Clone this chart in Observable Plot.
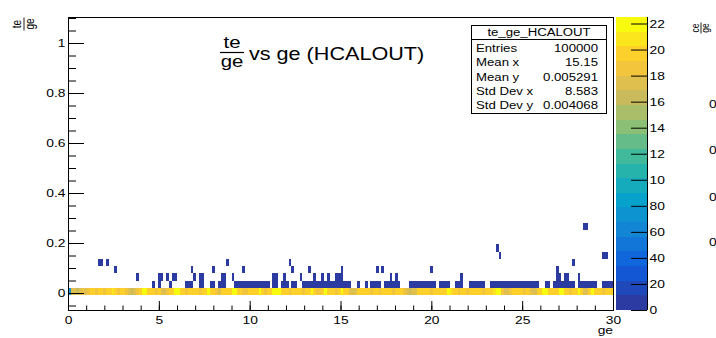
<!DOCTYPE html>
<html>
<head>
<meta charset="utf-8">
<script src="https://cdn.jsdelivr.net/npm/d3@7"></script>
<script src="https://cdn.jsdelivr.net/npm/@observablehq/plot@0.6"></script>
<style>
  body { margin: 0; background: #fff; }
  #chart { position: relative; width: 716px; height: 338px; overflow: hidden; }
  #chart svg { position: absolute; left: 0; top: 0; }
</style>
</head>
<body>
<div id="chart"></div>
<script>
// ---- histogram binning (te/ge vs ge) ----
const X_BINS = 200, X_MIN = 0, X_MAX = 30;
const Y_LOW = -0.008, Y_STEP = 0.029;

// counts of the lowest te/ge row, one per ge bin
const rowZero = [
   75,170,172,168,175,185,172,190,195,198,190,195,200,188,196,193,205,195,190,198,
  195,185,170,168,178,190,198,218,215,196,192,198,190,195,172,170,185,196,200,218,
  216,198,195,190,196,193,200,195,188,196,198,218,196,192,185,178,192,198,196,200,
  216,218,196,193,190,180,196,198,193,200,218,196,190,195,198,216,218,214,196,192,
  198,185,195,193,200,196,190,198,195,218,196,190,180,196,216,198,193,196,190,198,
  218,196,192,172,170,176,195,198,193,196,200,190,196,198,185,196,193,198,196,190,
  196,198,193,185,172,168,175,178,195,198,196,193,200,190,196,198,193,196,200,218,
  210,196,193,190,198,196,185,195,198,193,196,200,190,196,198,193,205,218,216,185,
  172,170,190,196,198,193,196,190,198,185,172,170,193,196,218,216,198,193,196,200,
  218,214,196,193,190,198,196,218,195,172,170,196,218,198,193,196,190,198,195,200
];

// sparse cells above the main band: [row, first ge bin, end ge bin (exclusive)]
const sparseRuns = [
  [1,31,32],[1,33,34],[1,37,38],[1,43,46],[1,48,50],[1,52,54],[1,55,58],[1,61,74],
  [1,75,77],[1,78,81],[1,82,84],[1,86,104],[1,106,107],[1,109,110],[1,111,115],
  [1,116,122],[1,125,135],[1,136,140],[1,142,145],[1,147,153],[1,155,173],
  [1,175,177],[1,178,186],[1,187,194],[1,196,200],
  [2,25,26],[2,33,35],[2,36,37],[2,38,40],[2,46,47],[2,48,50],[2,56,58],[2,60,61],
  [2,75,77],[2,79,80],[2,85,86],[2,90,91],[2,93,94],[2,95,96],[2,98,101],
  [2,118,119],[2,120,121],[2,144,145],[2,179,181],[2,182,184],[2,187,188],
  [3,17,18],[3,45,46],[3,53,54],[3,64,65],[3,82,83],[3,88,89],[3,100,101],
  [3,113,114],[3,115,116],[3,133,134],[3,179,180],
  [4,11,13],[4,14,15],[4,58,59],[4,81,82],[4,185,186],
  [5,158,159],[5,196,198],
  [6,157,158],
  [9,189,191]
];
const sparseCount = 3;

// axes
const xTicks = [0, 5, 10, 15, 20, 25, 30];
const yTicks = [0, 0.2, 0.4, 0.6, 0.8, 1];
const zTicks = [0, 20, 40, 60, 80, 100, 120, 140, 160, 180, 200, 220];
const zTickLabels = ["0", "20", "40", "60", "80", "10", "12", "14", "16", "18", "20", "22"];
const zMax = 225, nContours = 20;

// statistics box
const statsName = "te_ge_HCALOUT";
const statsLabels = ["Entries", "Mean x", "Mean y", "Std Dev x", "Std Dev y"];
const statsValues = ["100000", "15.15", "0.005291", "8.583", "0.004068"];

// ---- build cells ----
const binW = (X_MAX - X_MIN) / X_BINS;
const cells = [];
rowZero.forEach((c, i) => cells.push({
  x1: X_MIN + i * binW, x2: X_MIN + (i + 1) * binW,
  y1: Y_LOW, y2: Y_LOW + Y_STEP, count: c
}));
for (const [row, a, b] of sparseRuns) {
  for (let i = a; i < b; i++) cells.push({
    x1: X_MIN + i * binW, x2: X_MIN + (i + 1) * binW,
    y1: Y_LOW + row * Y_STEP, y2: Y_LOW + (row + 1) * Y_STEP, count: sparseCount
  });
}

// "bird"-style palette, sampled once per contour level
const birdStops = [0, .125, .25, .375, .5, .625, .75, .875, 1];
const birdRGB = [[0.17,0.23,0.63],[0.0592,0.3599,0.8684],[0.0780,0.5041,0.8385],
  [0.0232,0.6419,0.7914],[0.1802,0.7178,0.6425],[0.5301,0.7492,0.4662],
  [0.8186,0.7328,0.3499],[0.9956,0.7862,0.1968],[0.9764,0.9832,0.0539]];
const bird = d3.scaleLinear().domain(birdStops)
  .range(birdRGB.map(([r, g, b]) => d3.rgb(r * 255, g * 255, b * 255).toString()));
const levelColors = d3.range(nContours).map(i => bird(i / (nContours - 1)));
const levelEdges = d3.range(1, nContours).map(i => i * zMax / nContours);
const colorScale = {type: "threshold", domain: levelEdges, range: levelColors};

const FONT = "Liberation Sans, Arial, Helvetica, sans-serif";
const SX = 1.2; // horizontal glyph stretch of the canvas text

const W = 716, H = 338;
const frame = {left: 68, right: 103, top: 17, bottom: 28};
const fw = W - frame.left - frame.right, fh = H - frame.top - frame.bottom;

const main = Plot.plot({
  width: W, height: H,
  marginLeft: frame.left, marginRight: frame.right,
  marginTop: frame.top, marginBottom: frame.bottom,
  x: {domain: [X_MIN, X_MAX]},
  y: {domain: [-0.068, 1.104]},
  color: colorScale,
  style: {fontFamily: FONT, fontSize: "11.5px", color: "#000", background: "transparent"},
  marks: [
    Plot.rect(cells, {x1: "x1", x2: "x2", y1: "y1", y2: "y2", fill: "count", shapeRendering: "crispEdges"}),
    Plot.frame({stroke: "#000"}),
    Plot.tickX(d3.range(0, 31), {x: d => d, insetTop: fh - 4.5, stroke: "#000"}),
    Plot.tickX(xTicks, {x: d => d, insetTop: fh - 9, stroke: "#000"}),
    Plot.tickY(d3.range(-1, 23).map(k => k * 0.05), {y: d => d, insetRight: fw - 8, stroke: "#000"}),
    Plot.tickY(yTicks, {y: d => d, insetRight: fw - 16, stroke: "#000"}),
    Plot.axisX({ticks: xTicks, tickFormat: d => `${d}`, tickSize: 0, tickPadding: 5, label: null, fontSize: 11.5}),
    Plot.axisY({ticks: yTicks, tickFormat: d => `${d}`, tickSize: 0, tickPadding: 3, label: null, fontSize: 11.5})
  ]
});

const bar = Plot.plot({
  width: W, height: H,
  marginLeft: 616, marginRight: W - 647,
  marginTop: frame.top, marginBottom: frame.bottom,
  x: {domain: [0, 1], axis: null},
  y: {domain: [0, zMax], axis: null},
  color: colorScale,
  style: {fontFamily: FONT, fontSize: "11.5px", color: "#000", background: "transparent"},
  marks: [
    Plot.rect(d3.range(nContours), {
      x1: 0, x2: 1,
      y1: i => i * zMax / nContours, y2: i => (i + 1) * zMax / nContours,
      fill: i => (i + 0.5) * zMax / nContours, shapeRendering: "crispEdges"
    }),
    Plot.ruleX([1], {stroke: "#000"}),
    Plot.tickY(zTicks, {y: d => d, insetLeft: 15, stroke: "#000"}),
    Plot.axisY({anchor: "right", ticks: zTicks, tickFormat: d => zTickLabels[zTicks.indexOf(d)],
      tickSize: 0, tickPadding: 2, label: null, fontSize: 11.5})
  ]
});

function stretchText(node, sx) {
  node.querySelectorAll("text").forEach(t => {
    if (t.closest(".fraction")) return;
    let tr = t.getAttribute("transform") || "";
    if (!/translate/.test(tr)) {
      const x = +(t.getAttribute("x") || 0), y = +(t.getAttribute("y") || 0);
      t.removeAttribute("x"); t.removeAttribute("y");
      tr = `translate(${x},${y}) ` + tr;
    }
    t.setAttribute("transform", tr + ` scale(${sx},1)`);
  });
}

// rotated axis title drawn as a small fraction
function rotatedFraction(svg, cx, cy, num, den, fs, half, numY, denY) {
  const g = svg.append("g").attr("class", "fraction")
    .attr("transform", `translate(${cx},${cy}) scale(${SX},1) rotate(-90)`)
    .attr("font-family", FONT).attr("font-size", fs).attr("fill", "#000")
    .attr("text-anchor", "middle");
  g.append("text").attr("x", 0).attr("y", numY).text(num);
  g.append("line").attr("x1", -half).attr("x2", half).attr("y1", 0).attr("y2", 0)
    .attr("stroke", "#000").attr("stroke-width", 0.8);
  g.append("text").attr("x", 0).attr("y", denY).text(den);
}

function addText(sel, x, y, str, anchor, fs) {
  return sel.append("text").attr("x", x).attr("y", y)
    .attr("text-anchor", anchor).style("text-anchor", anchor)
    .attr("font-family", FONT).attr("font-size", fs).attr("fill", "#000").text(str);
}

const s = d3.select(main);

// title: te/ge as a stacked fraction followed by the rest of the title
const tg = s.append("g");
addText(tg, 232, 48, "te", "middle", 17);
tg.append("line").attr("x1", 220).attr("x2", 244).attr("y1", 52.5).attr("y2", 52.5)
  .attr("stroke", "#000").attr("stroke-width", 1.2);
addText(tg, 232, 67, "ge", "middle", 17);
addText(tg, 249, 60, "vs ge (HCALOUT)", "start", 18);

// statistics box
const sb = s.append("g");
sb.append("rect").attr("x", 471.5).attr("y", 25.5).attr("width", 135).attr("height", 88)
  .attr("fill", "#fff").attr("stroke", "#000");
sb.append("line").attr("x1", 471.5).attr("x2", 606.5).attr("y1", 39.5).attr("y2", 39.5).attr("stroke", "#000");
addText(sb, 539, 36, statsName, "middle", 11);
statsLabels.forEach((lab, i) => {
  addText(sb, 476, 52 + 14.3 * i, lab, "start", 11);
  addText(sb, 598, 52 + 14.3 * i, statsValues[i], "end", 11);
});

// x-axis title
addText(s, 613, 334, "ge", "end", 11.5);

stretchText(main, SX);
rotatedFraction(s, 24, 24, "te", "ge", 10, 6.5, -2.5, 8);

const b = d3.select(bar);
[104, 150, 197, 242].forEach(y => addText(b, 709, y + 4, "0", "start", 11.5));
stretchText(bar, SX);
rotatedFraction(b, 701, 28, "ce", "ge", 8.5, 5.5, -1.5, 6.5);

document.getElementById("chart").append(main, bar);
</script>
</body>
</html>
